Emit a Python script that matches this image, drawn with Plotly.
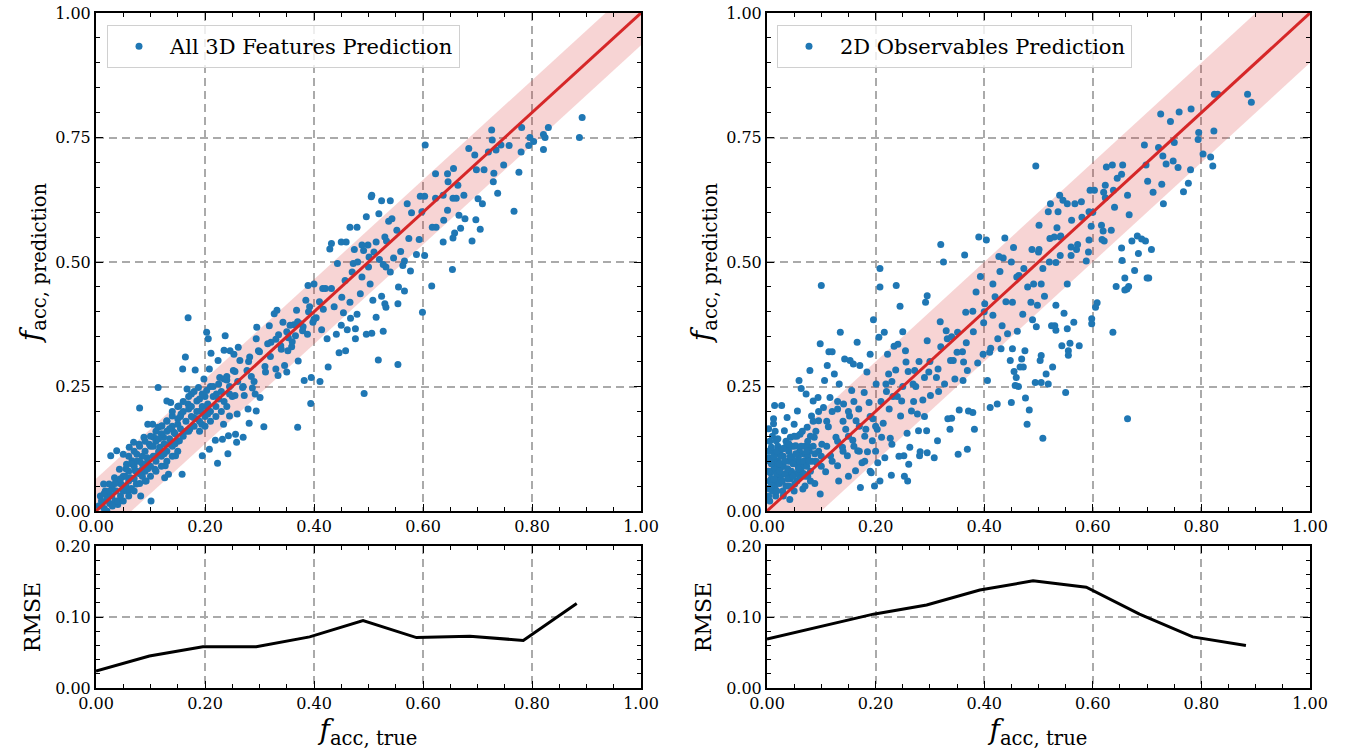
import plotly.graph_objects as go

# --- data ---
left_points = [
    (0.892, 0.790), (0.887, 0.750), (0.830, 0.770), (0.821, 0.756), (0.824, 0.750), (0.821, 0.726),
    (0.803, 0.742), (0.796, 0.750), (0.794, 0.734), (0.781, 0.770), (0.780, 0.721), (0.776, 0.680),
    (0.767, 0.602), (0.758, 0.734), (0.748, 0.695), (0.743, 0.735), (0.737, 0.638), (0.734, 0.725),
    (0.729, 0.661), (0.730, 0.678), (0.726, 0.765), (0.727, 0.745), (0.720, 0.721), (0.712, 0.685),
    (0.709, 0.617), (0.701, 0.627), (0.698, 0.685), (0.695, 0.715), (0.684, 0.728), (0.705, 0.566),
    (0.697, 0.585), (0.690, 0.542), (0.677, 0.587), (0.675, 0.634), (0.669, 0.568), (0.666, 0.594),
    (0.664, 0.654), (0.661, 0.628), (0.656, 0.688), (0.655, 0.628), (0.658, 0.558), (0.655, 0.548),
    (0.645, 0.677), (0.646, 0.661), (0.645, 0.604), (0.637, 0.634), (0.638, 0.584), (0.637, 0.540),
    (0.654, 0.485), (0.623, 0.677), (0.623, 0.628), (0.624, 0.570), (0.617, 0.570), (0.616, 0.452),
    (0.604, 0.735), (0.603, 0.632), (0.598, 0.601), (0.595, 0.632), (0.593, 0.545), (0.603, 0.513),
    (0.588, 0.515), (0.599, 0.399), (0.579, 0.599), (0.574, 0.547), (0.571, 0.617), (0.566, 0.442),
    (0.554, 0.416), (0.555, 0.450), (0.554, 0.294), (0.577, 0.482), (0.566, 0.502), (0.563, 0.493),
    (0.559, 0.521), (0.552, 0.564), (0.546, 0.508), (0.543, 0.587), (0.540, 0.623), (0.537, 0.582),
    (0.533, 0.542), (0.540, 0.480), (0.532, 0.490), (0.527, 0.495), (0.530, 0.416), (0.532, 0.409),
    (0.527, 0.361), (0.524, 0.623), (0.524, 0.431), (0.519, 0.597), (0.514, 0.540), (0.514, 0.389),
    (0.518, 0.303), (0.506, 0.634), (0.505, 0.631), (0.508, 0.423), (0.506, 0.357), (0.496, 0.591),
    (0.496, 0.355), (0.503, 0.456), (0.501, 0.510), (0.499, 0.534), (0.488, 0.534), (0.491, 0.523),
    (0.488, 0.470), (0.485, 0.436), (0.479, 0.570), (0.479, 0.395), (0.476, 0.366), (0.476, 0.346),
    (0.492, 0.236), (0.474, 0.525), (0.472, 0.497), (0.466, 0.570), (0.467, 0.387), (0.466, 0.419),
    (0.461, 0.364), (0.459, 0.540), (0.457, 0.463), (0.458, 0.322), (0.454, 0.398), (0.450, 0.540),
    (0.451, 0.429), (0.450, 0.373), (0.446, 0.318), (0.443, 0.497), (0.441, 0.355), (0.437, 0.410),
    (0.432, 0.537), (0.429, 0.526), (0.432, 0.447), (0.424, 0.346), (0.426, 0.289), (0.421, 0.447),
    (0.416, 0.447), (0.417, 0.405), (0.414, 0.364), (0.411, 0.260), (0.404, 0.388), (0.400, 0.456),
    (0.398, 0.379), (0.395, 0.268), (0.394, 0.216), (0.392, 0.410), (0.389, 0.453), (0.388, 0.355),
    (0.385, 0.423), (0.382, 0.262), (0.379, 0.362), (0.375, 0.376), (0.371, 0.301), (0.370, 0.168),
    (0.368, 0.403), (0.366, 0.352), (0.363, 0.374), (0.359, 0.330), (0.356, 0.373), (0.353, 0.348),
    (0.352, 0.322), (0.350, 0.279), (0.346, 0.292), (0.343, 0.379), (0.339, 0.332), (0.335, 0.354),
    (0.334, 0.272), (0.332, 0.403), (0.330, 0.285), (0.327, 0.396), (0.321, 0.339), (0.318, 0.372),
    (0.315, 0.336), (0.311, 0.279), (0.308, 0.169), (0.301, 0.228), (0.298, 0.322), (0.295, 0.369),
    (0.294, 0.346), (0.294, 0.201), (0.292, 0.235), (0.287, 0.247), (0.282, 0.309), (0.281, 0.176),
    (0.279, 0.205), (0.277, 0.282), (0.272, 0.232), (0.270, 0.148), (0.269, 0.248), (0.264, 0.302),
    (0.261, 0.329), (0.259, 0.195), (0.258, 0.138), (0.256, 0.154), (0.255, 0.232), (0.253, 0.315),
    (0.252, 0.282), (0.246, 0.322), (0.245, 0.191), (0.243, 0.151), (0.242, 0.115), (0.240, 0.263),
    (0.237, 0.352), (0.235, 0.323), (0.234, 0.174), (0.232, 0.144), (0.227, 0.268), (0.224, 0.302),
    (0.223, 0.096), (0.221, 0.235), (0.219, 0.142), (0.211, 0.317), (0.208, 0.285), (0.206, 0.346),
    (0.203, 0.359), (0.205, 0.205), (0.208, 0.124), (0.203, 0.242), (0.198, 0.265), (0.195, 0.111),
    (0.194, 0.174), (0.192, 0.201), (0.188, 0.248), (0.185, 0.221), (0.182, 0.283), (0.179, 0.188),
    (0.175, 0.235), (0.172, 0.164), (0.169, 0.388), (0.169, 0.215), (0.167, 0.245), (0.164, 0.309),
    (0.159, 0.285), (0.158, 0.074), (0.156, 0.195), (0.153, 0.141), (0.152, 0.211), (0.150, 0.174),
    (0.146, 0.111), (0.143, 0.158), (0.140, 0.191), (0.137, 0.218), (0.135, 0.134), (0.133, 0.074),
    (0.130, 0.221), (0.130, 0.181), (0.127, 0.091), (0.126, 0.067), (0.124, 0.148), (0.121, 0.171),
    (0.117, 0.128), (0.114, 0.248), (0.114, 0.168), (0.111, 0.111), (0.108, 0.084), (0.106, 0.148),
    (0.104, 0.174), (0.101, 0.020), (0.098, 0.134), (0.095, 0.174), (0.094, 0.107), (0.092, 0.060),
    (0.088, 0.148), (0.085, 0.084), (0.082, 0.030), (0.080, 0.207), (0.079, 0.134), (0.075, 0.114),
    (0.074, 0.054), (0.072, 0.081), (0.069, 0.138), (0.066, 0.101), (0.063, 0.067), (0.061, 0.128),
    (0.059, 0.040), (0.056, 0.094), (0.053, 0.070), (0.050, 0.114), (0.046, 0.054), (0.043, 0.084),
    (0.040, 0.013), (0.038, 0.121), (0.037, 0.040), (0.034, 0.067), (0.029, 0.030), (0.027, 0.111),
    (0.024, 0.054), (0.021, 0.023), (0.017, 0.040), (0.014, 0.054), (0.012, 0.017), (0.008, 0.030),
    (0.005, 0.010),
    (0.010, 0.020), (0.015, 0.005), (0.020, 0.030), (0.025, 0.015), (0.030, 0.045), (0.035, 0.020),
    (0.040, 0.060), (0.045, 0.030), (0.050, 0.070), (0.050, 0.040), (0.055, 0.050), (0.060, 0.080),
    (0.060, 0.060), (0.065, 0.045), (0.070, 0.090), (0.070, 0.065), (0.075, 0.100), (0.080, 0.075),
    (0.080, 0.055), (0.085, 0.110), (0.085, 0.095), (0.090, 0.080), (0.090, 0.120), (0.095, 0.100),
    (0.100, 0.090), (0.100, 0.130), (0.105, 0.110), (0.110, 0.100), (0.110, 0.140), (0.115, 0.120),
    (0.120, 0.110), (0.120, 0.155), (0.125, 0.135), (0.130, 0.120), (0.130, 0.160), (0.135, 0.145),
    (0.140, 0.130), (0.140, 0.170), (0.145, 0.155), (0.150, 0.140), (0.150, 0.185), (0.155, 0.165),
    (0.160, 0.150), (0.160, 0.200), (0.165, 0.180), (0.170, 0.160), (0.170, 0.205), (0.175, 0.190),
    (0.180, 0.170), (0.185, 0.200), (0.190, 0.180), (0.190, 0.225), (0.195, 0.210), (0.200, 0.190),
    (0.200, 0.230), (0.205, 0.215), (0.210, 0.200), (0.210, 0.250), (0.215, 0.230), (0.220, 0.210),
    (0.225, 0.255), (0.230, 0.240), (0.235, 0.220), (0.240, 0.270), (0.245, 0.250), (0.250, 0.230),
    (0.255, 0.280), (0.260, 0.260), (0.270, 0.250), (0.280, 0.300), (0.285, 0.270), (0.290, 0.260),
    (0.300, 0.320), (0.310, 0.290), (0.320, 0.310), (0.330, 0.345), (0.340, 0.325), (0.350, 0.360),
    (0.360, 0.340), (0.370, 0.380), (0.380, 0.370), (0.390, 0.400), (0.400, 0.385), (0.410, 0.420),
    (0.020, 0.000), (0.030, 0.010), (0.040, 0.020), (0.050, 0.020), (0.060, 0.030), (0.070, 0.040),
    (0.080, 0.100), (0.090, 0.060), (0.100, 0.070), (0.110, 0.080), (0.120, 0.090), (0.130, 0.100),
    (0.140, 0.110), (0.150, 0.120), (0.060, 0.110), (0.070, 0.120), (0.080, 0.130), (0.090, 0.140),
    (0.100, 0.150), (0.110, 0.160), (0.120, 0.170), (0.130, 0.180), (0.140, 0.200), (0.150, 0.210),
    (0.160, 0.220), (0.170, 0.230), (0.180, 0.240), (0.190, 0.160), (0.200, 0.170), (0.210, 0.180),
    (0.220, 0.190), (0.230, 0.200), (0.240, 0.210),
    (0.015, 0.035), (0.025, 0.040), (0.035, 0.055), (0.045, 0.065), (0.055, 0.085), (0.065, 0.095),
    (0.075, 0.080), (0.085, 0.070), (0.095, 0.085), (0.105, 0.130), (0.115, 0.145), (0.125, 0.115),
    (0.135, 0.165), (0.145, 0.135), (0.155, 0.190), (0.165, 0.160), (0.175, 0.210), (0.185, 0.185),
    (0.195, 0.235), (0.205, 0.195), (0.215, 0.250), (0.225, 0.225), (0.235, 0.265), (0.245, 0.235),
    (0.470, 0.480), (0.480, 0.500), (0.500, 0.490), (0.510, 0.520), (0.520, 0.505), (0.530, 0.550),
]

right_points = [
    (0.885, 0.837), (0.892, 0.821), (0.824, 0.837), (0.830, 0.837), (0.823, 0.763), (0.821, 0.693),
    (0.817, 0.711), (0.803, 0.717), (0.795, 0.760), (0.794, 0.746), (0.781, 0.807), (0.780, 0.685),
    (0.776, 0.658), (0.767, 0.641), (0.759, 0.801), (0.757, 0.690), (0.750, 0.740), (0.748, 0.703),
    (0.743, 0.782), (0.735, 0.697), (0.730, 0.617), (0.727, 0.656), (0.729, 0.713), (0.725, 0.797),
    (0.721, 0.730), (0.711, 0.640), (0.708, 0.525), (0.701, 0.662), (0.698, 0.695), (0.695, 0.735),
    (0.697, 0.542), (0.690, 0.546), (0.703, 0.468), (0.700, 0.468), (0.684, 0.517), (0.682, 0.552),
    (0.677, 0.483), (0.672, 0.542), (0.667, 0.595), (0.664, 0.634), (0.666, 0.451), (0.663, 0.446),
    (0.659, 0.444), (0.664, 0.185), (0.655, 0.695), (0.653, 0.676), (0.653, 0.528), (0.654, 0.503),
    (0.645, 0.668), (0.643, 0.451), (0.659, 0.468), (0.638, 0.644), (0.636, 0.695), (0.634, 0.564),
    (0.637, 0.359), (0.625, 0.691), (0.623, 0.654), (0.623, 0.629), (0.621, 0.542), (0.619, 0.562),
    (0.616, 0.574), (0.617, 0.545), (0.608, 0.418), (0.605, 0.409), (0.603, 0.644), (0.598, 0.386),
    (0.598, 0.376), (0.595, 0.644), (0.597, 0.572), (0.593, 0.601), (0.593, 0.544), (0.592, 0.520),
    (0.588, 0.502), (0.579, 0.621), (0.575, 0.332), (0.572, 0.535), (0.570, 0.525), (0.567, 0.617),
    (0.565, 0.379), (0.561, 0.584), (0.560, 0.513), (0.558, 0.337), (0.555, 0.322), (0.555, 0.313),
    (0.553, 0.456), (0.553, 0.366), (0.553, 0.617), (0.550, 0.238), (0.547, 0.397), (0.545, 0.624),
    (0.543, 0.332), (0.541, 0.552), (0.540, 0.513), (0.539, 0.634), (0.536, 0.601), (0.534, 0.569),
    (0.532, 0.499), (0.532, 0.363), (0.532, 0.413), (0.530, 0.372), (0.529, 0.550), (0.526, 0.289),
    (0.524, 0.372), (0.522, 0.617), (0.521, 0.547), (0.518, 0.255), (0.518, 0.601), (0.514, 0.275),
    (0.511, 0.431), (0.508, 0.487), (0.505, 0.456), (0.505, 0.312), (0.505, 0.258), (0.503, 0.302),
    (0.508, 0.146), (0.501, 0.574), (0.501, 0.525), (0.498, 0.413), (0.496, 0.370), (0.495, 0.693),
    (0.494, 0.258), (0.491, 0.456), (0.488, 0.525), (0.486, 0.419), (0.489, 0.384), (0.483, 0.203),
    (0.479, 0.174), (0.476, 0.227), (0.475, 0.322), (0.473, 0.487), (0.472, 0.289), (0.471, 0.395),
    (0.469, 0.305), (0.466, 0.289), (0.464, 0.473), (0.463, 0.250), (0.461, 0.361), (0.459, 0.268),
    (0.457, 0.252), (0.455, 0.280), (0.452, 0.326), (0.452, 0.419), (0.450, 0.218), (0.454, 0.529),
    (0.450, 0.500), (0.448, 0.302), (0.443, 0.356), (0.438, 0.548), (0.435, 0.508), (0.433, 0.372),
    (0.431, 0.326), (0.429, 0.481), (0.427, 0.511), (0.425, 0.346), (0.424, 0.215), (0.416, 0.456),
    (0.416, 0.393), (0.412, 0.327), (0.411, 0.208), (0.410, 0.319), (0.406, 0.262), (0.404, 0.544),
    (0.401, 0.416), (0.399, 0.378), (0.398, 0.315), (0.393, 0.471), (0.390, 0.550), (0.388, 0.297),
    (0.385, 0.440), (0.382, 0.164), (0.379, 0.401), (0.379, 0.198), (0.371, 0.201), (0.369, 0.282),
    (0.367, 0.338), (0.366, 0.399), (0.364, 0.514), (0.362, 0.299), (0.361, 0.262), (0.369, 0.124),
    (0.354, 0.203), (0.352, 0.114), (0.351, 0.359), (0.350, 0.319), (0.346, 0.265), (0.343, 0.302),
    (0.340, 0.186), (0.338, 0.302), (0.337, 0.164), (0.333, 0.185), (0.332, 0.346), (0.330, 0.362),
    (0.327, 0.255), (0.325, 0.500), (0.320, 0.535), (0.319, 0.380), (0.316, 0.240), (0.315, 0.285),
    (0.312, 0.268), (0.314, 0.141), (0.308, 0.107), (0.301, 0.232), (0.298, 0.279), (0.295, 0.342),
    (0.294, 0.161), (0.295, 0.432), (0.292, 0.419), (0.295, 0.117), (0.290, 0.268), (0.287, 0.223),
    (0.282, 0.119), (0.281, 0.111), (0.279, 0.161), (0.277, 0.195), (0.274, 0.250), (0.272, 0.282),
    (0.269, 0.255), (0.266, 0.201), (0.263, 0.128), (0.261, 0.094), (0.259, 0.060), (0.258, 0.156),
    (0.256, 0.299), (0.255, 0.322), (0.253, 0.070), (0.252, 0.111), (0.250, 0.360), (0.248, 0.221),
    (0.246, 0.191), (0.245, 0.411), (0.243, 0.110), (0.241, 0.335), (0.238, 0.453), (0.237, 0.283),
    (0.234, 0.331), (0.232, 0.230), (0.230, 0.134), (0.229, 0.072), (0.227, 0.146), (0.225, 0.205),
    (0.224, 0.275), (0.222, 0.315), (0.219, 0.255), (0.217, 0.107), (0.216, 0.359), (0.214, 0.176),
    (0.211, 0.148), (0.208, 0.487), (0.208, 0.450), (0.208, 0.060), (0.206, 0.349), (0.204, 0.097),
    (0.203, 0.164), (0.201, 0.255), (0.198, 0.050), (0.196, 0.384), (0.195, 0.185), (0.194, 0.141),
    (0.192, 0.077), (0.190, 0.315), (0.188, 0.218), (0.185, 0.119), (0.184, 0.279), (0.182, 0.164),
    (0.179, 0.238), (0.175, 0.097), (0.172, 0.047), (0.171, 0.292), (0.169, 0.205), (0.167, 0.121),
    (0.166, 0.339), (0.164, 0.181), (0.163, 0.081), (0.159, 0.295), (0.158, 0.142), (0.156, 0.242),
    (0.153, 0.302), (0.152, 0.191), (0.150, 0.070), (0.148, 0.111), (0.145, 0.164), (0.143, 0.305),
    (0.141, 0.215), (0.139, 0.128), (0.135, 0.359), (0.133, 0.255), (0.132, 0.060), (0.130, 0.091),
    (0.130, 0.205), (0.127, 0.148), (0.124, 0.275), (0.120, 0.320), (0.117, 0.111), (0.116, 0.228),
    (0.114, 0.320), (0.113, 0.169), (0.111, 0.292), (0.108, 0.079), (0.106, 0.262), (0.104, 0.208),
    (0.101, 0.134), (0.100, 0.453), (0.098, 0.336), (0.098, 0.034), (0.095, 0.181), (0.094, 0.228),
    (0.092, 0.097), (0.088, 0.055), (0.087, 0.148), (0.085, 0.221), (0.082, 0.191), (0.079, 0.282),
    (0.077, 0.128), (0.075, 0.070), (0.074, 0.168), (0.072, 0.235), (0.069, 0.114), (0.066, 0.044),
    (0.063, 0.246), (0.061, 0.154), (0.059, 0.262), (0.057, 0.091), (0.056, 0.201), (0.053, 0.131),
    (0.051, 0.054), (0.050, 0.174), (0.046, 0.107), (0.043, 0.148), (0.042, 0.023), (0.040, 0.074),
    (0.037, 0.188), (0.034, 0.128), (0.032, 0.161), (0.029, 0.040), (0.027, 0.212), (0.025, 0.087),
    (0.024, 0.114), (0.021, 0.067), (0.017, 0.141), (0.016, 0.030), (0.014, 0.212), (0.012, 0.185),
    (0.011, 0.101), (0.010, 0.054), (0.008, 0.128), (0.006, 0.077), (0.005, 0.020), (0.004, 0.107),
    (0.005, 0.060), (0.010, 0.080), (0.015, 0.050), (0.020, 0.100), (0.025, 0.070), (0.030, 0.090),
    (0.035, 0.050), (0.040, 0.120), (0.045, 0.080), (0.050, 0.100), (0.055, 0.060), (0.060, 0.120),
    (0.065, 0.090), (0.070, 0.070), (0.075, 0.110), (0.080, 0.080), (0.085, 0.130), (0.090, 0.100),
    (0.095, 0.120), (0.100, 0.090), (0.010, 0.120), (0.020, 0.130), (0.030, 0.110), (0.040, 0.100),
    (0.050, 0.130), (0.060, 0.100), (0.070, 0.130), (0.080, 0.150), (0.090, 0.160), (0.100, 0.110),
    (0.110, 0.130), (0.120, 0.100), (0.130, 0.140), (0.140, 0.120), (0.150, 0.150), (0.160, 0.130),
    (0.170, 0.170), (0.180, 0.150), (0.190, 0.190), (0.200, 0.170), (0.010, 0.040), (0.020, 0.060),
    (0.030, 0.030), (0.040, 0.050), (0.050, 0.040), (0.060, 0.070), (0.070, 0.050), (0.080, 0.060),
    (0.015, 0.090), (0.025, 0.110), (0.035, 0.140), (0.045, 0.130), (0.055, 0.150), (0.065, 0.160),
    (0.075, 0.140), (0.085, 0.180), (0.095, 0.200), (0.005, 0.100), (0.005, 0.140), (0.015, 0.160),
    (0.110, 0.180), (0.120, 0.200), (0.130, 0.220), (0.140, 0.180), (0.150, 0.200), (0.160, 0.220),
    (0.170, 0.120), (0.180, 0.100), (0.190, 0.080), (0.200, 0.120), (0.210, 0.220), (0.220, 0.240),
    (0.230, 0.260), (0.240, 0.230), (0.250, 0.250), (0.260, 0.280), (0.270, 0.220), (0.280, 0.300),
    (0.290, 0.190), (0.300, 0.300), (0.320, 0.330), (0.340, 0.350), (0.360, 0.320), (0.380, 0.360),
    (0.400, 0.400), (0.420, 0.430), (0.440, 0.420), (0.460, 0.470), (0.480, 0.450), (0.500, 0.520),
    (0.520, 0.500), (0.540, 0.550), (0.560, 0.530), (0.580, 0.590), (0.600, 0.600), (0.620, 0.640),
    (0.640, 0.610),
    (0.003, 0.045), (0.008, 0.065), (0.013, 0.085), (0.018, 0.075), (0.023, 0.055), (0.028, 0.095),
    (0.033, 0.075), (0.038, 0.085), (0.043, 0.065), (0.048, 0.095), (0.053, 0.075), (0.058, 0.110),
    (0.063, 0.080), (0.068, 0.100), (0.073, 0.090), (0.078, 0.120), (0.083, 0.100), (0.088, 0.115),
    (0.003, 0.080), (0.008, 0.095), (0.013, 0.110), (0.018, 0.120), (0.023, 0.095), (0.028, 0.125),
    (0.003, 0.030), (0.008, 0.050), (0.013, 0.065), (0.018, 0.040), (0.023, 0.080), (0.028, 0.060),
    (0.033, 0.100), (0.038, 0.065), (0.043, 0.110), (0.048, 0.070), (0.053, 0.115), (0.058, 0.085),
    (0.063, 0.130), (0.068, 0.075), (0.073, 0.120), (0.078, 0.100), (0.003, 0.120), (0.010, 0.150),
    (0.020, 0.145), (0.030, 0.125), (0.040, 0.135), (0.050, 0.150), (0.003, 0.165), (0.012, 0.175),
]

rmse_bins = [0.0, 0.098, 0.196, 0.294, 0.392, 0.49, 0.588, 0.686, 0.784, 0.882]
left_rmse = [0.024, 0.045, 0.058, 0.058, 0.072, 0.095, 0.071, 0.073, 0.067, 0.119]
right_rmse = [0.069, 0.087, 0.104, 0.117, 0.138, 0.151, 0.142, 0.104, 0.072, 0.060]

left_band = 0.065
right_band = 0.10

left_label = "All 3D Features Prediction"
right_label = "2D Observables Prediction"

BLUE = "#1f77b4"
RED = "#d62728"
FONT = "DejaVu Serif"
W, H = 1351, 755


def px_x(p):
    return p / W


def px_y(p):
    return 1 - p / H


fig = go.Figure()

panels = [
    dict(pts=left_points, rmse=left_rmse, band=left_band, label=left_label,
         xa="x", ya="y", xb="x3", yb="y3", legend="legend"),
    dict(pts=right_points, rmse=right_rmse, band=right_band, label=right_label,
         xa="x2", ya="y2", xb="x4", yb="y4", legend="legend2"),
]

for p in panels:
    line = [0, 1]
    fig.add_trace(go.Scatter(x=line, y=[v - p["band"] for v in line], mode="lines",
                             line=dict(width=0), showlegend=False, hoverinfo="skip",
                             xaxis=p["xa"], yaxis=p["ya"]))
    fig.add_trace(go.Scatter(x=line, y=[v + p["band"] for v in line], mode="lines",
                             line=dict(width=0), fill="tonexty",
                             fillcolor="rgba(214,39,40,0.2)", showlegend=False,
                             hoverinfo="skip", xaxis=p["xa"], yaxis=p["ya"]))
    fig.add_trace(go.Scatter(x=[q[0] for q in p["pts"]], y=[q[1] for q in p["pts"]],
                             mode="markers", marker=dict(color=BLUE, size=7),
                             name=p["label"], legend=p["legend"],
                             xaxis=p["xa"], yaxis=p["ya"]))
    fig.add_trace(go.Scatter(x=line, y=line, mode="lines", line=dict(color=RED, width=3),
                             showlegend=False, xaxis=p["xa"], yaxis=p["ya"]))
    fig.add_trace(go.Scatter(x=rmse_bins, y=p["rmse"], mode="lines",
                             line=dict(color="black", width=3), showlegend=False,
                             xaxis=p["xb"], yaxis=p["yb"]))

axis_common = dict(
    showline=True, linewidth=2, linecolor="black", mirror="ticks",
    ticks="inside", ticklen=7, tickwidth=1.3, tickcolor="black",
    showgrid=True, gridcolor="#aaaaaa", griddash="8px,5px", gridwidth=1.5,
    zeroline=False, automargin=False, ticklabeloverflow="allow",
    tickfont=dict(family=FONT, size=16, color="black"),
    tickformat=".2f",
)

top_y = [px_y(511), px_y(13)]
bot_y = [px_y(688), px_y(546)]
left_x = [px_x(96), px_x(641)]
right_x = [px_x(767), px_x(1310)]

xminor = dict(ticks="inside", dtick=0.05, ticklen=4, tickcolor="black", showgrid=False)
ytitle = dict(text="<i>f</i><sub>acc, prediction</sub>", font=dict(family=FONT, size=28), standoff=6)
xtitle = dict(text="<i>f</i><sub>acc, true</sub>", font=dict(family=FONT, size=28), standoff=4)
rtitle = dict(text="RMSE", font=dict(family=FONT, size=22), standoff=8)

leg_style = dict(xanchor="left", yanchor="top", bgcolor="rgba(255,255,255,0.8)",
                 bordercolor="#d0d0d0", borderwidth=1, itemwidth=52,
                 font=dict(family=FONT, size=21))

fig.update_layout(
    template="none",
    width=W, height=H, margin=dict(l=0, r=0, t=0, b=0),
    plot_bgcolor="white", paper_bgcolor="white",
    font=dict(family=FONT, color="black"),
    xaxis=dict(axis_common, domain=left_x, range=[0, 1], dtick=0.2, anchor="y", minor=xminor),
    yaxis=dict(axis_common, domain=top_y, range=[0, 1], dtick=0.25, anchor="x",
               minor=dict(xminor, dtick=0.05), title=ytitle),
    xaxis2=dict(axis_common, domain=right_x, range=[0, 1], dtick=0.2, anchor="y2", minor=xminor),
    yaxis2=dict(axis_common, domain=top_y, range=[0, 1], dtick=0.25, anchor="x2",
                minor=dict(xminor, dtick=0.05), title=ytitle),
    xaxis3=dict(axis_common, domain=left_x, range=[0, 1], dtick=0.2, anchor="y3",
                minor=xminor, title=xtitle),
    yaxis3=dict(axis_common, domain=bot_y, range=[0, 0.2], dtick=0.1, anchor="x3",
                minor=dict(xminor, dtick=0.02), title=rtitle),
    xaxis4=dict(axis_common, domain=right_x, range=[0, 1], dtick=0.2, anchor="y4",
                minor=xminor, title=xtitle),
    yaxis4=dict(axis_common, domain=bot_y, range=[0, 0.2], dtick=0.1, anchor="x4",
                minor=dict(xminor, dtick=0.02), title=rtitle),
    legend=dict(leg_style, x=px_x(107), y=px_y(25)),
    legend2=dict(leg_style, x=px_x(777), y=px_y(25)),
)

# drop the default 8px page margin so the figure sits at the window's corner
fig.write_html("out.html", config={"displayModeBar": False},
               post_script="document.body.style.margin = '0';")
